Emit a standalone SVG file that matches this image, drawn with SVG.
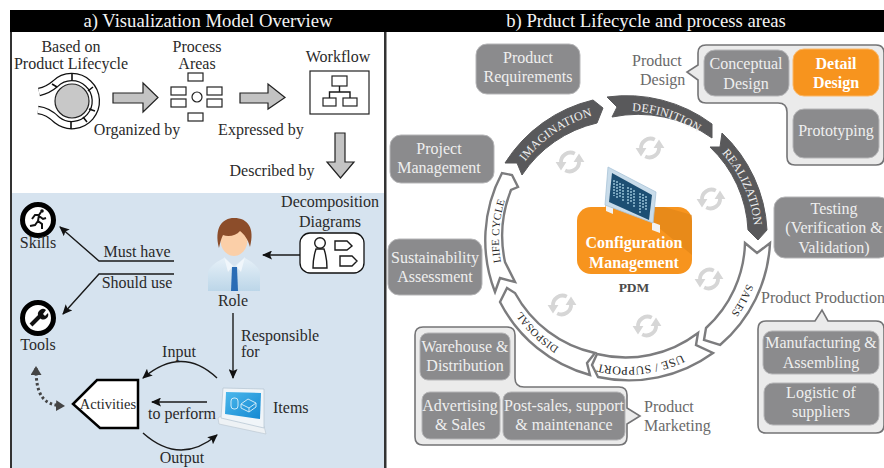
<svg xmlns="http://www.w3.org/2000/svg" xmlns:xlink="http://www.w3.org/1999/xlink" width="884" height="468" viewBox="0 0 884 468">
<style>
text{font-family:"Liberation Serif","Times New Roman",serif;font-size:16px;fill:#2a2a2a}
.m{text-anchor:middle}
.title{font-size:18.700px;fill:#f4f4f4;text-anchor:middle}
.box{fill:#8b8b8d;stroke:#b5b5b7;stroke-width:1}
.bt{font-size:16px;fill:#efefef;text-anchor:middle}
.org{fill:#f7941e;stroke:#fbb767;stroke-width:1}
.ob{font-size:16px;font-weight:bold;fill:#fff;text-anchor:middle}
.grp{fill:#ebebeb;stroke:#747476;stroke-width:1.600}
.gl{fill:#6a6a6a;font-size:16px}
.blk{fill:#c3c3c3;stroke:#222;stroke-width:1.200}
.o{fill:#fff;stroke:#222;stroke-width:1.200}
.ln{fill:none;stroke:#1a1a1a;stroke-width:1.400}
.dk{fill:#59595b;stroke:#59595b;stroke-width:1}
.wh{fill:#fff;stroke:#7c7c7e;stroke-width:2.400}
.rt{font-size:12px;letter-spacing:.2px;text-anchor:middle}
.rs{font-size:10.800px}
.rtw{fill:#f0f0f0}
.ref{fill:none;stroke:#d6d6d6;stroke-width:3.200}
</style>
<defs>
<marker id="ah" markerWidth="11" markerHeight="9" refX="9" refY="4.500" orient="auto" markerUnits="userSpaceOnUse"><path d="M0 0L10 4.500L0 9L2 4.500Z" fill="#111"/></marker>
<marker id="dh" markerWidth="10" markerHeight="11" refX="7" refY="5.500" orient="auto-start-reverse" markerUnits="userSpaceOnUse"><path d="M0 0L9 5.500L0 11Z" fill="#444"/></marker>
<path id="ring" d="M627 111A128 128 0 1 1 626.900 111"/>
<linearGradient id="scr" x1="0" y1="0" x2="1" y2="1"><stop offset="0" stop-color="#4bb8ec"/><stop offset="1" stop-color="#1488d2"/></linearGradient>
<linearGradient id="shirt" x1="0" y1="0" x2="0" y2="1"><stop offset="0" stop-color="#e6f0f8"/><stop offset="1" stop-color="#bcd6e8"/></linearGradient>
<g id="refresh">
<path class="ref" d="M-7.500 1A8 8 0 0 1 4 -7"/><path class="ref" d="M7.500 -1A8 8 0 0 1 -4 7"/>
<path d="M-12 0H-3L-7.500 7Z M12 0H3L7.500 -7Z" fill="#d6d6d6"/>
</g>
</defs>
<rect width="884" height="468" fill="#fff"/>
<g id="panel-a">
<rect x="11" y="193" width="373" height="275" fill="#d6e3ef"/>
<rect x="10" y="10" width="2" height="458" fill="#333"/>
<rect x="384" y="30" width="2.500" height="438" fill="#333"/>
</g>
<g id="headers">
<rect x="10" y="10" width="874" height="22" fill="#000"/>
<text class="title" x="208" y="27">a) Visualization Model Overview</text>
<text class="title" x="646" y="27">b) Prduct Lifecycle and process areas</text>
</g>
<g id="lifecycle-icon">
<path d="M39 92Q48 90 55 84A24 24 0 1 1 57 120Q48 111 38 110" fill="none" stroke="#111" stroke-width="8.500"/>
<path d="M39 92Q48 90 55 84A24 24 0 1 1 57 120Q48 111 38 110" fill="none" stroke="#fff" stroke-width="6"/>
<circle cx="72" cy="101" r="17" fill="#c8c8c8" stroke="#222" stroke-width="1.200"/>
<path d="M72 73v7M93 87l-5 4M95 111l-6-2M71 129v-7M87 122l-4-5M52 84l5 3" stroke="#111" stroke-width="1.600"/>
<text class="m" x="71" y="52">Based on</text><text class="m" x="71" y="69">Product Lifecycle</text>
</g>
<g id="process-areas">
<g class="o"><rect x="188" y="73" width="15" height="8"/><rect x="171" y="87" width="15" height="8"/><rect x="171" y="99" width="15" height="8"/><rect x="207" y="87" width="15" height="8"/><rect x="207" y="99" width="15" height="8"/><rect x="188" y="113" width="15" height="8"/><circle cx="197" cy="97" r="5"/></g>
<text class="m" x="197" y="52">Process</text><text class="m" x="197" y="69">Areas</text>
</g>
<g id="workflow">
<rect x="310" y="71" width="59" height="43" class="o"/>
<g class="o"><rect x="332" y="76" width="15" height="10"/><rect x="323" y="98" width="13" height="8"/><rect x="343" y="98" width="14" height="8"/></g>
<path d="M339.500 86V92M329.500 98V92H350V98" class="ln" stroke-width="1"/>
<text class="m" x="338" y="62">Workflow</text>
</g>
<g id="connectors-a">
<path class="blk" d="M113 93H143V83L158 97.500L143 112V103H113Z"/>
<path class="blk" d="M240 93H268V84L285 97.500L268 109V103H240Z"/>
<path class="blk" d="M335 133H345V162H354L340.500 178L327 162H335Z"/>
<path class="ln" marker-end="url(#ah)" d="M174 261H99L60 227"/>
<path class="ln" marker-end="url(#ah)" d="M174 274H99L63 314"/>
<path class="ln" marker-end="url(#ah)" d="M300 255H263"/>
<path class="ln" marker-end="url(#ah)" d="M233 313V378"/>
<path class="ln" marker-end="url(#ah)" d="M217 378Q182 345 143 378"/>
<path class="ln" marker-end="url(#ah)" d="M207 402H152"/>
<path class="ln" marker-end="url(#ah)" d="M143 433Q180 466 217 435"/>
<path d="M36 368C36 395 43 405 63 406" fill="none" stroke="#444" stroke-width="3" stroke-dasharray="2.500 2.500" marker-start="url(#dh)" marker-end="url(#dh)"/>
</g>
<g id="edge-labels-a">
<text class="m" x="137" y="135">Organized by</text>
<text class="m" x="261" y="135">Expressed by</text>
<text class="m" x="272" y="176">Described by</text>
<text class="m" x="137" y="257">Must have</text>
<text class="m" x="137" y="288">Should use</text>
<text x="241" y="341">Responsible</text><text x="241" y="357">for</text>
<text class="m" x="179" y="357">Input</text>
<text class="m" x="182" y="419">to perform</text>
<text class="m" x="182" y="463">Output</text>
</g>
<g id="skills">
<circle cx="38" cy="220" r="15.500" fill="#fff" stroke="#000" stroke-width="5"/>
<path d="M41 212l-2 3-4 0-3 4M39 215l-1 6 4 3 0 5M38 221l-3 4-5 1M39 216l4 3 3-1" fill="none" stroke="#111" stroke-width="2"/>
<circle cx="42" cy="211" r="1.800" fill="#111"/>
<text class="m" x="38" y="248">Skills</text>
</g>
<g id="tools">
<circle cx="38" cy="318" r="15.500" fill="#fff" stroke="#000" stroke-width="5"/>
<path d="M31 325L41 315" stroke="#111" stroke-width="4"/>
<path d="M39 317A5 5 0 0 1 46 310L43 314L45 316L48 313A5 5 0 0 1 41 319Z" fill="#111"/>
<text class="m" x="38" y="350">Tools</text>
</g>
<g id="role">
<path d="M208 291V272Q210 265 224 258L234 266L245 258Q258 265 260 272V291Z" fill="url(#shirt)"/>
<path d="M224 257L233 266L228 272ZM245 257L236 266L241 272Z" fill="#f0f6fb"/>
<path d="M232 267H237L238 291H231Z" fill="#2a6cb5"/>
<ellipse cx="234" cy="240" rx="13.500" ry="16" fill="#fbcfa8"/>
<path d="M219 248C214 228 222 218 234 218C248 218 255 228 250 247C248 239 244 234 240 231C236 236 228 237 223 235C221 239 220 243 219 248Z" fill="#8c4d2a"/>
<text class="m" x="233" y="306">Role</text>
</g>
<g id="decomposition">
<rect x="300" y="233" width="64" height="40" rx="10" fill="#fff" stroke="#111" stroke-width="1.300"/>
<circle cx="320" cy="243" r="5.300" fill="#fff" stroke="#1a1a1a" stroke-width="1.400"/>
<path d="M316 249Q313 258 313 268H327Q327 258 324 249Z" class="ln"/>
<path d="M335 241H347L352 246L347 250H335ZM340 256H352L357 261L352 266H340Z" class="ln"/>
<text class="m" x="330" y="207">Decomposition</text><text class="m" x="330" y="227">Diagrams</text>
</g>
<g id="activities">
<path d="M138 380H97L73 404L100 428H138Z" fill="#fff" stroke="#000" stroke-width="2.500"/>
<text class="m" x="108" y="409" style="font-size:14.500px">Activities</text>
</g>
<g id="items">
<path d="M218 418L221 416L264 426L266 434L219 424Z" fill="#eef2f5" stroke="#b9c5ce" stroke-width=".6"/>
<path d="M223 388L264 389V428L221 418Z" fill="#f0f5f9" stroke="#b9c8d4" stroke-width=".8"/>
<path d="M226 392L261 393L260 419L225 414Z" fill="url(#scr)"/>
<g fill="none" stroke="#cdeaf8" stroke-width="1"><rect x="231" y="398" width="7" height="11" rx="3"/><path d="M241 404L248 399L256 403L256 407L249 412L241 408ZM241 404L249 408L256 403M249 408V412"/></g>
<text x="273" y="413">Items</text>
</g>
<g id="connectors-b">
<path class="dk" d="M505 163A143 143 0 0 1 593 100L603 108L597 123A123 123 0 0 0 522 175L517 163Z"/>
<path class="dk" d="M607 97A143 143 0 0 1 712 124L712 138A128 128 0 0 0 612 117L617 107Z"/>
<path class="dk" d="M722 133A143 143 0 0 1 767 230L758 240L748 230A122 122 0 0 0 710 147L720 147Z"/>
<path class="wh" d="M745 243L757 253L770 243A143 143 0 0 1 720 345L704 340L706 328A119 119 0 0 0 745 243Z"/>
<path class="wh" d="M698 333L696 345L713 353A143 143 0 0 1 598 377L592 365L597 354A119 119 0 0 0 698 333Z"/>
<path class="wh" d="M595 353L587 363L590 375A143 143 0 0 1 500 302L507 288L515 293A120 120 0 0 0 595 353Z"/>
<path class="wh" d="M495 292A143 143 0 0 1 502 173L512 175L518 187L511 190A124 124 0 0 0 505 262L515 282L500 278Z"/>
<text class="rt rtw"><textPath xlink:href="#ring" href="#ring" startOffset="90.500%">IMAGINATION</textPath></text>
<text class="rt rtw"><textPath xlink:href="#ring" href="#ring" startOffset="5%">DEFINITION</textPath></text>
<text class="rt rtw"><textPath xlink:href="#ring" href="#ring" startOffset="18.300%">REALIZATION</textPath></text>
<text class="rt rs"><textPath xlink:href="#ring" href="#ring" startOffset="32.800%">SALES</textPath></text>
<text class="rt"><textPath xlink:href="#ring" href="#ring" startOffset="48.300%">USE / SUPPORT</textPath></text>
<text class="rt rs"><textPath xlink:href="#ring" href="#ring" startOffset="62.200%">DISPOSAL</textPath></text>
<text class="rt rs"><textPath xlink:href="#ring" href="#ring" startOffset="76%">LIFE CYCLE</textPath></text>
<use href="#refresh" transform="translate(570 162) scale(1.200)"/><use href="#refresh" transform="translate(650 148) scale(1.200)"/><use href="#refresh" transform="translate(711 199) scale(1.200)"/><use href="#refresh" transform="translate(709 279) scale(1.200)"/><use href="#refresh" transform="translate(647 326) scale(1.200)"/><use href="#refresh" transform="translate(562 305) scale(1.200)"/>
</g>
<g id="config-management">
<rect x="577" y="207" width="115" height="67" rx="14" fill="#f7941e"/>
<path d="M605 205L653 223L692 255V215L664 207H605Z" fill="#d97f14" opacity=".5"/>
<path d="M606 205L613 208V214L606 211ZM652 222L660 225V233L652 230Z" fill="#f2f2f2"/>
<path d="M608 167L656 192L653 223L605 205Z" fill="#c9dcea" stroke="#aac4d8" stroke-width=".8"/>
<path d="M612 173L652 195L649 220L609 202Z" fill="#1d4f73"/>
<path d="M614 180V196M617 181V198M620 183V198M623 184V201M628 187V205M631 188V203M634 190V208M640 193V213M643 194V208M646 196V210" stroke="#a9d3e6" stroke-width="1.300" stroke-dasharray="2 1"/>
<text class="ob" x="634" y="248">Configuration</text><text class="ob" x="634" y="268">Management</text>
<text class="m" x="634" y="292" style="font-size:13.500px;font-weight:bold;fill:#4a4a4a">PDM</text>
</g>
<g id="product-requirements"><rect class="box" x="476" y="44" width="104" height="50" rx="11"/><text class="bt" x="528" y="63">Product</text><text class="bt" x="528" y="82">Requirements</text></g>
<g id="project-management"><rect class="box" x="390" y="135" width="104" height="48" rx="11"/><text class="bt" x="439" y="154">Project</text><text class="bt" x="439" y="173">Management</text></g>
<g id="sustainability"><rect class="box" x="388" y="239" width="94" height="56" rx="11"/><text class="bt" x="435" y="263">Sustainability</text><text class="bt" x="435" y="282">Assessment</text></g>
<g id="testing"><rect class="box" x="774" y="197" width="116" height="61" rx="11"/><text class="bt" x="834" y="214">Testing</text><text class="bt" x="834" y="233">(Verification &amp;</text><text class="bt" x="834" y="253">Validation)</text></g>
<g id="product-design">
<path class="grp" d="M706 45H876Q884 45 884 53V157Q884 165 876 165H795Q787 165 787 157V112Q787 103 778 103H706Q698 103 698 95V80L687 72L698 65V53Q698 45 706 45Z"/>
<text class="gl" x="632" y="66">Product</text><text class="gl" x="640" y="85">Design</text>
<rect class="box" x="704" y="50" width="85" height="46" rx="11"/><text class="bt" x="746" y="69">Conceptual</text><text class="bt" x="746" y="89">Design</text>
<rect class="org" x="793" y="49" width="86" height="47" rx="11"/><text class="ob" x="836" y="69">Detail</text><text class="ob" x="836" y="88">Design</text>
<rect class="box" x="793" y="109" width="86" height="49" rx="11"/><text class="bt" x="836" y="136">Prototyping</text>
</g>
<g id="product-production">
<path class="grp" d="M766 321H815L822 310L828 321H876Q884 321 884 329V425Q884 433 876 433H766Q758 433 758 425V329Q758 321 766 321Z"/>
<text class="gl" x="761" y="303">Product Production</text>
<rect class="box" x="763" y="331" width="116" height="43" rx="9"/><text class="bt" x="821" y="348">Manufacturing &amp;</text><text class="bt" x="821" y="368">Assembling</text>
<rect class="box" x="764" y="383" width="115" height="42" rx="9"/><text class="bt" x="821" y="398">Logistic of</text><text class="bt" x="821" y="417">suppliers</text>
</g>
<g id="product-marketing">
<path class="grp" d="M423 327H507Q515 327 515 335V378Q515 387 524 387H619Q627 387 627 395V408L640 416L627 424V437Q627 445 619 445H423Q415 445 415 437V335Q415 327 423 327Z"/>
<rect class="box" x="420" y="333" width="90" height="47" rx="8"/><text class="bt" x="465" y="352">Warehouse &amp;</text><text class="bt" x="465" y="371">Distribution</text>
<rect class="box" x="422" y="392" width="78" height="47" rx="8"/><text class="bt" x="460" y="411">Advertising</text><text class="bt" x="460" y="430">&amp; Sales</text>
<rect class="box" x="503" y="392" width="122" height="48" rx="8"/><text class="bt" x="564" y="411">Post-sales, support</text><text class="bt" x="564" y="430">&amp; maintenance</text>
<text class="gl" x="644" y="412">Product</text><text class="gl" x="644" y="431">Marketing</text>
</g>
</svg>
